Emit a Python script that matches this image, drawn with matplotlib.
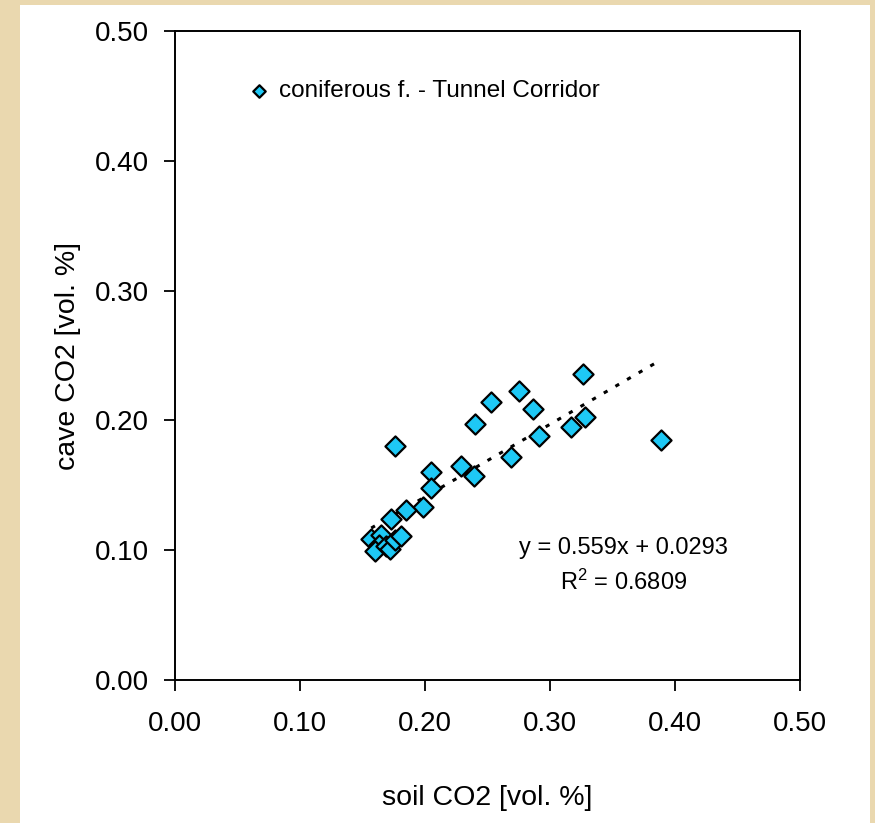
import numpy as np
import matplotlib
matplotlib.use('Agg')
import matplotlib.pyplot as plt
from matplotlib.patches import Rectangle

plt.rcParams['font.family'] = ['Liberation Sans', 'DejaVu Sans']

# soil CO2 vs cave CO2 [vol. %]
soil_co2 = [0.326, 0.275, 0.253, 0.286, 0.240, 0.328, 0.317, 0.291, 0.389,
            0.176, 0.269, 0.229, 0.239, 0.205, 0.205, 0.198, 0.185, 0.173,
            0.157, 0.165, 0.163, 0.160, 0.169, 0.172, 0.176, 0.181]
cave_co2 = [0.236, 0.223, 0.214, 0.209, 0.197, 0.203, 0.195, 0.188, 0.185,
            0.180, 0.172, 0.165, 0.157, 0.160, 0.148, 0.133, 0.131, 0.124,
            0.109, 0.112, 0.104, 0.099, 0.103, 0.101, 0.108, 0.111]

slope = 0.559
intercept = 0.0293
r2 = 0.6809

ticks = [0.0, 0.1, 0.2, 0.3, 0.4, 0.5]
series_name = 'coniferous f. - Tunnel Corridor'

fig = plt.figure(figsize=(8.75, 8.23), dpi=100)
fig.patch.set_facecolor('#EAD8AF')
# white panel on the parchment
fig.patches.append(Rectangle((20 / 875, 0), 850 / 875, 818 / 823,
                             transform=fig.transFigure, facecolor='white',
                             edgecolor='none', zorder=-5))

ax = fig.add_axes([175 / 875, 143 / 823, 625 / 875, 649 / 823])
ax.set_zorder(2)
ax.set_facecolor('white')

ax.scatter(soil_co2, cave_co2, marker='D', s=105, c='#1EC8F5',
           edgecolors='black', linewidths=1.6, zorder=3, label=series_name)

xs = np.array([min(soil_co2), max(soil_co2)])
ax.plot(xs, slope * xs + intercept, color='black', linestyle=(0, (1.4, 3.0)),
        linewidth=2.2, zorder=2)

ax.set_xlim(0, 0.5)
ax.set_ylim(0, 0.5)
ax.set_xticks(ticks)
ax.set_yticks(ticks)
ax.set_xticklabels(['%.2f' % t for t in ticks])
ax.set_yticklabels(['%.2f' % t for t in ticks])
ax.tick_params(direction='out', length=8, width=1.3, labelsize=20, pad=11,
               colors='black')
ax.tick_params(axis='x', pad=14)
for s in ax.spines.values():
    s.set_linewidth(1.4)
    s.set_color('black')

ax.set_xlabel('soil CO2 [vol. %]', fontsize=20.5, labelpad=35)
ax.set_ylabel('cave CO2 [vol. %]', fontsize=20.5, labelpad=10)

ax.text(0.359, 0.1017, 'y = 0.559x + 0.0293', fontsize=17, ha='center',
        va='center')
ax.text(0.359, 0.0755, '$\\mathregular{R^2}$ = %.4f' % r2, fontsize=17,
        ha='center', va='center')

leg = ax.legend(loc='center left', bbox_to_anchor=(0.096, 0.907), frameon=False,
                fontsize=17.5, handletextpad=-0.2, markerscale=0.62,
                borderaxespad=0, borderpad=0)

fig.savefig('out.png', dpi=100, facecolor=fig.get_facecolor())
